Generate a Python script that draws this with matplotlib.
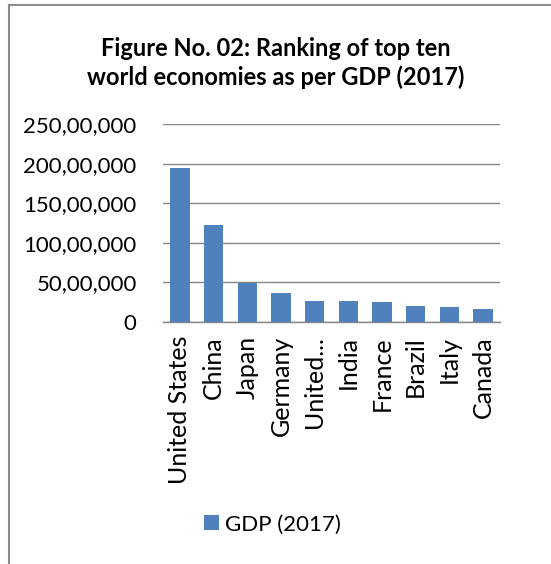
import matplotlib.pyplot as plt
from matplotlib.ticker import FuncFormatter, MultipleLocator
from matplotlib.lines import Line2D

countries = ['United States', 'China', 'Japan', 'Germany', 'United...',
             'India', 'France', 'Brazil', 'Italy', 'Canada']
gdp_2017 = [19390604, 12237700, 4872137, 3677439, 2622434,
            2597491, 2582501, 2055506, 1934798, 1653043]
series_name = 'GDP (2017)'
title = 'Figure No. 02: Ranking of top ten\nworld economies as per GDP (2017)'

plt.rcParams['font.family'] = ['Lato', 'DejaVu Sans']
blue = '#4F81BD'
grey = '#868686'


def lakh_fmt(v, pos=None):
    # number format like ##,##,### -> 250,00,000
    s = str(int(round(v)))
    if len(s) <= 3:
        return s
    if len(s) <= 5:
        return s[:-3] + ',' + s[-3:]
    return s[:-5] + ',' + s[-5:-3] + ',' + s[-3:]


fig = plt.figure(figsize=(5.51, 5.64), dpi=100)
ax = fig.add_axes([0.296, 0.429, 0.611, 0.351])

x = range(len(countries))
ax.bar(x, gdp_2017, width=0.57, color=blue, label=series_name, zorder=3)
ax.set_xlim(-0.5, len(countries) - 0.5)
ax.set_ylim(0, 25000000)
ax.yaxis.set_major_locator(MultipleLocator(5000000))
ax.yaxis.set_major_formatter(FuncFormatter(lakh_fmt))
ax.grid(axis='y', color=grey, linewidth=1, zorder=0)
ax.set_axisbelow(True)
for s in ['top', 'right', 'left']:
    ax.spines[s].set_visible(False)
ax.spines['bottom'].set_color(grey)
ax.spines['bottom'].set_linewidth(1)
ax.set_xticks(list(x))
ax.set_xticklabels(countries, rotation=90, fontsize=18)
ax.tick_params(axis='x', length=0, pad=10)
ax.tick_params(axis='y', length=0, pad=19, labelsize=16)

fig.text(0.5, 0.888, title, ha='center', va='center', fontsize=17,
         fontweight='bold', linespacing=1.3)

fig.legend(loc='center', bbox_to_anchor=(0.495, 0.07), frameon=False,
           fontsize=16, handlelength=0.65, handleheight=0.65,
           handletextpad=0.3)

# outer frame lines of the embedded chart
fig.add_artist(Line2D([9 / 551, 9 / 551], [0, 1 - 5 / 564], color='#8c8c8c', lw=1.5))
fig.add_artist(Line2D([9 / 551, 1], [1 - 5 / 564, 1 - 5 / 564], color='#8c8c8c', lw=1.5))

fig.savefig('out.png', dpi=100)
